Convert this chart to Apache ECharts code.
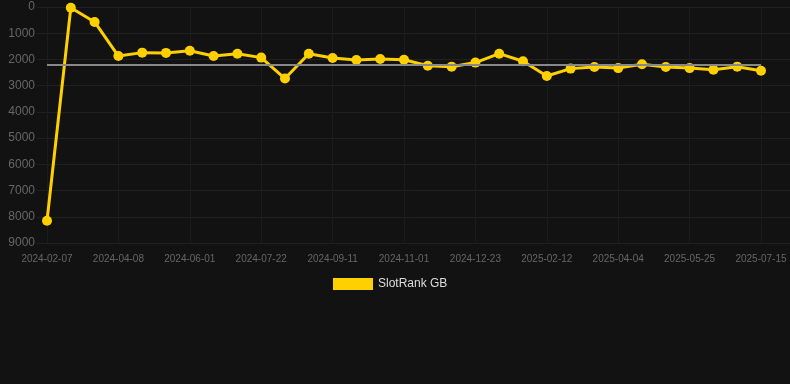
<!DOCTYPE html>
<html><head><meta charset="utf-8">
<script src="https://cdn.jsdelivr.net/npm/echarts@6/dist/echarts.min.js"></script>
<style>html,body{margin:0;padding:0;background:#121212}#c{width:790px;height:384px}</style>
</head><body><div id="c"></div>
<script>
var dates = ['2024-02-07','2024-02-27','2024-03-18','2024-04-08','2024-04-26','2024-05-14','2024-06-01','2024-06-18','2024-07-05','2024-07-22','2024-08-08','2024-08-25','2024-09-11','2024-09-28','2024-10-15','2024-11-01','2024-11-18','2024-12-05','2024-12-23','2025-01-09','2025-01-26','2025-02-12','2025-03-01','2025-03-18','2025-04-04','2025-04-21','2025-05-08','2025-05-25','2025-06-11','2025-06-28','2025-07-15'];
var rankGB = [8150,30,570,1870,1740,1750,1670,1870,1780,1930,2730,1780,1945,2020,1980,2010,2240,2275,2120,1780,2070,2630,2350,2290,2330,2185,2290,2330,2390,2275,2430];
var yTicks = [0,1000,2000,3000,4000,5000,6000,7000,8000,9000];
var seriesName = 'SlotRank GB';

var font = 'Liberation Sans, Arial, sans-serif';
var chart = echarts.init(document.getElementById('c'));
chart.setOption({
  backgroundColor: '#121212',
  animation: false,
  grid: [
    {left: 47, right: 29, top: 7, bottom: 141},
    {left: 37, right: 0, top: 7, bottom: 141}
  ],
  legend: {
    data: [{name: seriesName, icon: 'rect'}],
    top: 273, left: 328, itemWidth: 40, itemHeight: 12, itemGap: 6,
    textStyle: {color: '#dddddd', fontSize: 12, fontFamily: font}
  },
  xAxis: [{
    type: 'category', data: dates, boundaryGap: false, gridIndex: 0,
    axisLine: {show: false}, axisTick: {show: false},
    axisLabel: {interval: 2, color: '#666666', fontSize: 10, margin: 11, fontFamily: font},
    splitLine: {show: true, interval: 2, lineStyle: {color: '#1c1c1c', width: 1}}
  }, {
    type: 'value', gridIndex: 1, show: false, min: 0, max: 1
  }],
  yAxis: [{
    type: 'value', inverse: true, gridIndex: 0, min: yTicks[0], max: yTicks[yTicks.length-1], interval: 1000,
    axisLine: {show: false}, axisTick: {show: false}, axisLabel: {show: false},
    splitLine: {show: false}
  }, {
    type: 'value', inverse: true, gridIndex: 1, min: yTicks[0], max: yTicks[yTicks.length-1], interval: 1000,
    axisLine: {show: false}, axisTick: {show: false},
    axisLabel: {color: '#666666', fontSize: 12, margin: 2, fontFamily: font,
      formatter: function (v) { return String(v); }},
    splitLine: {show: true, lineStyle: {color: '#202020', width: 1}}
  }],
  series: [{
    name: seriesName, type: 'line', data: rankGB, xAxisIndex: 0, yAxisIndex: 0,
    symbol: 'circle', symbolSize: 10, z: 3,
    itemStyle: {color: '#FFD000'},
    lineStyle: {color: '#FFD000', width: 3},
    markLine: {
      silent: true, symbol: 'none', label: {show: false},
      lineStyle: {color: '#888888', type: 'solid', width: 2},
      data: [{type: 'average'}]
    }
  }]
});
</script></body></html>
